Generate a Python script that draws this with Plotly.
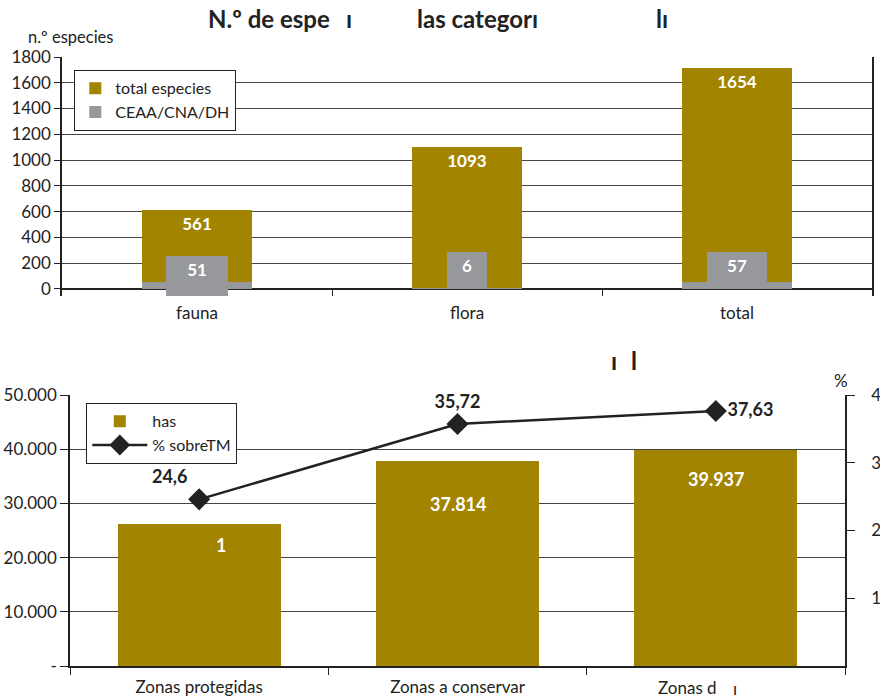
import plotly.graph_objects as go

# top chart: species per category
categorias = ["fauna", "flora", "total"]
total_especies = [561, 1093, 1654]
ceaa = [51, 6, 57]
caja_base = [-55, 0, 0]
caja_tope = [256, 287, 287]

# bottom chart: surface per zone type
zonas = ["Zonas protegidas", "Zonas a conservar", "Zonas d"]
has = [26200, 37814, 39937]
has_labels = ["1", "37.814", "39.937"]
pct_sobre_tm = [24.6, 35.72, 37.63]

GOLD = "#a28400"
GRAY = "#97989b"
DARK = "#222222"
GRID = "#444444"
FONT = "Lato"

W, H = 880, 697


def px_x(v):
    return v / W


def px_y(v):
    return 1 - v / H


fig = go.Figure()

# wide gray strip under the gold bars
fig.add_trace(go.Bar(
    x=categorias, y=ceaa, base=0, width=0.407,
    marker=dict(color=GRAY, line_width=0),
    showlegend=False, hoverinfo="skip",
    xaxis="x", yaxis="y",
))
fig.add_trace(go.Bar(
    x=categorias, y=total_especies, base=ceaa, width=0.407,
    marker=dict(color=GOLD, line_width=0),
    name="total especies", legend="legend",
    text=[str(v) for v in total_especies],
    textposition="inside", insidetextanchor="end", textangle=0,
    textfont=dict(color="white", size=17, family=FONT, weight="bold"),
    xaxis="x", yaxis="y",
))
fig.add_trace(go.Bar(
    x=categorias,
    y=[t - b for t, b in zip(caja_tope, caja_base)],
    base=caja_base, width=[0.23, 0.148, 0.219],
    marker=dict(color=GRAY, line_width=0),
    name="CEAA/CNA/DH", legend="legend",
    text=[str(v) for v in ceaa],
    textposition="inside", insidetextanchor="end", textangle=0,
    textfont=dict(color="white", size=17, family=FONT, weight="bold"),
    xaxis="x", yaxis="y",
))

fig.add_trace(go.Bar(
    x=zonas, y=has, width=0.63,
    marker=dict(color=GOLD, line_width=0),
    name="has", legend="legend2",
    xaxis="x2", yaxis="y2",
))
fig.add_trace(go.Scatter(
    x=zonas, y=pct_sobre_tm,
    mode="lines+markers+text",
    text=[str(v).replace(".", ",") for v in pct_sobre_tm],
    textposition=["top left", "top center", "middle right"],
    textfont=dict(color=DARK, size=18, family=FONT, weight="bold"),
    line=dict(color=DARK, width=2.5),
    marker=dict(symbol="diamond", size=17, color=DARK),
    name="% sobreTM", legend="legend2",
    xaxis="x2", yaxis="y3", cliponaxis=False,
))

annotations = []
for z, v, lab, dy in zip(zonas, has, has_labels, [-21, -43, -29]):
    annotations.append(dict(
        x=z, y=v, xref="x2", yref="y2", text=lab, showarrow=False,
        yshift=dy, xshift=22 if lab == "1" else 0,
        font=dict(color="white", size=18, family=FONT, weight="bold"),
    ))

title_font = dict(color=DARK, size=24, family=FONT, weight="bold")
for txt, x0 in [("N.º de espe", 206), ("ı", 344), ("las categorı", 415), ("lı", 654)]:
    annotations.append(dict(
        x=px_x(x0), y=px_y(19), xref="paper", yref="paper", text=txt,
        xanchor="left", yanchor="middle", showarrow=False, font=title_font,
    ))
for txt, x0 in [("ı", 609), ("l", 629)]:
    annotations.append(dict(
        x=px_x(x0), y=px_y(360), xref="paper", yref="paper", text=txt,
        xanchor="left", yanchor="middle", showarrow=False, font=title_font,
    ))
annotations.append(dict(
    x=px_x(26), y=px_y(37), xref="paper", yref="paper", text="n.º especies",
    xanchor="left", yanchor="middle", showarrow=False,
    font=dict(color=DARK, size=16.5, family=FONT),
))
annotations.append(dict(
    x=px_x(841), y=px_y(380), xref="paper", yref="paper", text="%",
    xanchor="center", yanchor="middle", showarrow=False,
    font=dict(color=DARK, size=17, family=FONT),
))
annotations.append(dict(
    x=px_x(656), y=px_y(687), xref="paper", yref="paper", text="Zonas d",
    xanchor="left", yanchor="middle", showarrow=False,
    font=dict(color=DARK, size=17, family=FONT),
))
annotations.append(dict(
    x=px_x(731), y=px_y(688), xref="paper", yref="paper", text="ı",
    xanchor="left", yanchor="middle", showarrow=False,
    font=dict(color=DARK, size=17, family=FONT),
))

axis_common = dict(
    tickfont=dict(color=DARK, size=17, family=FONT),
    linecolor=DARK, linewidth=1.5, tickcolor=DARK, automargin=False,
)

fig.update_layout(
    width=W, height=H,
    margin=dict(l=0, r=0, t=0, b=0, autoexpand=False),
    paper_bgcolor="white", plot_bgcolor="white",
    barmode="overlay", bargap=0,
    font=dict(family=FONT, color=DARK),
    annotations=annotations,
    xaxis=dict(
        domain=[px_x(62), px_x(872)], anchor="y",
        type="category", tickson="boundaries", ticks="inside", ticklen=7,
        ticklabelstandoff=5,
        showline=False, showgrid=False, mirror=False,
        **axis_common,
    ),
    yaxis=dict(
        domain=[px_y(296), px_y(57)], anchor="x",
        range=[-55, 1800], tickvals=list(range(0, 1801, 200)),
        ticks="outside", ticklen=6, showline=True, mirror=True,
        showgrid=True, gridcolor=GRID, gridwidth=1.3,
        zeroline=True, zerolinecolor=DARK, zerolinewidth=1.5,
        **axis_common,
    ),
    xaxis2=dict(
        domain=[px_x(70), px_x(845)], anchor="y2",
        type="category", tickson="boundaries", ticks="outside", ticklen=7,
        ticklabelstandoff=5,
        showline=True, showgrid=False,
        tickvals=zonas, ticktext=["Zonas protegidas", "Zonas a conservar", ""],
        **axis_common,
    ),
    yaxis2=dict(
        domain=[px_y(666), px_y(395)], anchor="x2",
        range=[0, 50000], tickvals=list(range(0, 50001, 10000)),
        ticktext=["-", "10.000", "20.000", "30.000", "40.000", "50.000"],
        ticks="outside", ticklen=8, showline=True, mirror=False,
        showgrid=True, gridcolor=GRID, gridwidth=1.3, zeroline=False,
        **axis_common,
    ),
    yaxis3=dict(
        overlaying="y2", anchor="x2", side="right",
        range=[0, 40], tickvals=[10, 20, 30, 40],
        ticks="outside", ticklen=8, ticklabelstandoff=13,
        showline=True, showgrid=False, zeroline=False,
        **axis_common,
    ),
    legend=dict(
        x=px_x(74), y=px_y(70), xanchor="left", yanchor="top",
        bgcolor="white", bordercolor=DARK, borderwidth=1.3,
        font=dict(size=16, family=FONT, color=DARK),
        traceorder="normal", tracegroupgap=0,
    ),
    legend2=dict(
        x=px_x(86), y=px_y(403), xanchor="left", yanchor="top",
        bgcolor="white", bordercolor=DARK, borderwidth=1.3,
        font=dict(size=16, family=FONT, color=DARK),
        traceorder="normal", tracegroupgap=0, itemwidth=55,
    ),
)

# drop the default body margin so the figure sits at the page corner
fig.write_html(
    "out.html",
    config={"displayModeBar": False},
    post_script="document.body.style.margin='0';",
)
